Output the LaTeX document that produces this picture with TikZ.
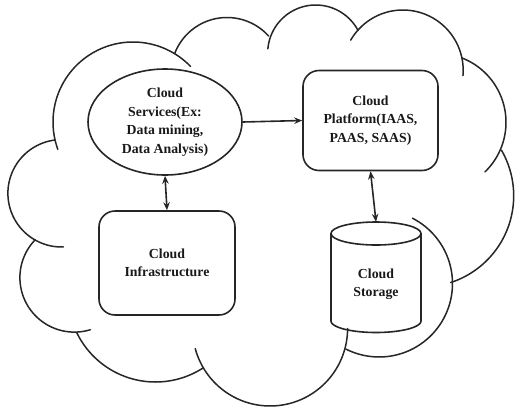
\documentclass[tikz,border=0pt]{standalone}
\usepackage{fontspec}
\setmainfont{Liberation Serif}
\usetikzlibrary{arrows.meta,shapes.geometric,calc}
\newcommand\cloudbump[5]{\draw[cloudline] plot[domain=#4:#5, samples=60, smooth] ({#1+#3*cos(\x)},{#2+#3*sin(\x)});}
\tikzset{
  cloudline/.style={line width=1.5pt, line cap=round, black!85},
  boxtext/.style={font=\fontsize{13.8}{18.5}\selectfont\bfseries, align=center, text=black!90},
  rbox/.style={draw=black!85, line width=1.6pt, rounded corners=16pt, inner sep=0pt, boxtext},
  svcell/.style={draw=black!85, ellipse, line width=1.6pt, minimum width=154pt, minimum height=106pt, inner sep=0pt, boxtext},
  shapeline/.style={line width=1.6pt, black!85},
  tipa/.tip={Stealth[length=8pt,width=6.5pt]},
  conn/.style={line width=1.6pt, black!85, -tipa},
  biconn/.style={line width=1.6pt, black!85, tipa-tipa},
}
\begin{document}
\begin{tikzpicture}[x=1pt,y=-1pt]
\useasboundingbox (0,0) rectangle (515,408);
% cloud outline
\cloudbump{133}{122}{80}{160}{316}
\cloudbump{227}{73.5}{56}{201}{318}
\cloudbump{315.7}{53}{48}{185}{332}
\cloudbump{402.9}{70.3}{60.3}{210}{365}
\cloudbump{437}{122.3}{69}{-69}{46}
\cloudbump{422.5}{195.8}{91.2}{-30}{72}
\cloudbump{379.1}{283.6}{73.4}{-63}{117}
\cloudbump{270.1}{328.5}{77.5}{0}{165}
\cloudbump{155.5}{294.5}{87.5}{57}{154}
\cloudbump{74.4}{277.6}{54.5}{73}{224}
\cloudbump{61.6}{193.3}{53.7}{88}{263}
% nodes
\node[svcell] (svc) at (165,122) {Cloud\\Services(Ex:\\Data mining,\\Data Analysis)};
\node[rbox, minimum width=135pt, minimum height=100pt] (plat) at (370.5,120.5) {Cloud\\Platform(IAAS,\\PAAS, SAAS)};
\node[rbox, minimum width=136pt, minimum height=104pt] (infra) at (167,263) {Cloud\\Infrastructure};
\node[minimum width=90pt, minimum height=110pt, inner sep=0pt] (stor) at (376,277) {};
\node[boxtext] (storlbl) at (376,284) {Cloud\\Storage};
% cylinder
\draw[shapeline] (376,233.5) ellipse [x radius=45, y radius=11.5];
\draw[shapeline] (331,233.5) -- (331,321)
  plot[domain=180:0, samples=40, smooth] ({376+45*cos(\x)},{321+11.5*sin(\x)})
  -- (421,233.5);
% connectors
\draw[conn] (svc.east) -- (plat.west);
\draw[biconn] (svc.south) -- (infra.north);
\draw[biconn] (plat.south) -- (stor.north);
\end{tikzpicture}
\end{document}
